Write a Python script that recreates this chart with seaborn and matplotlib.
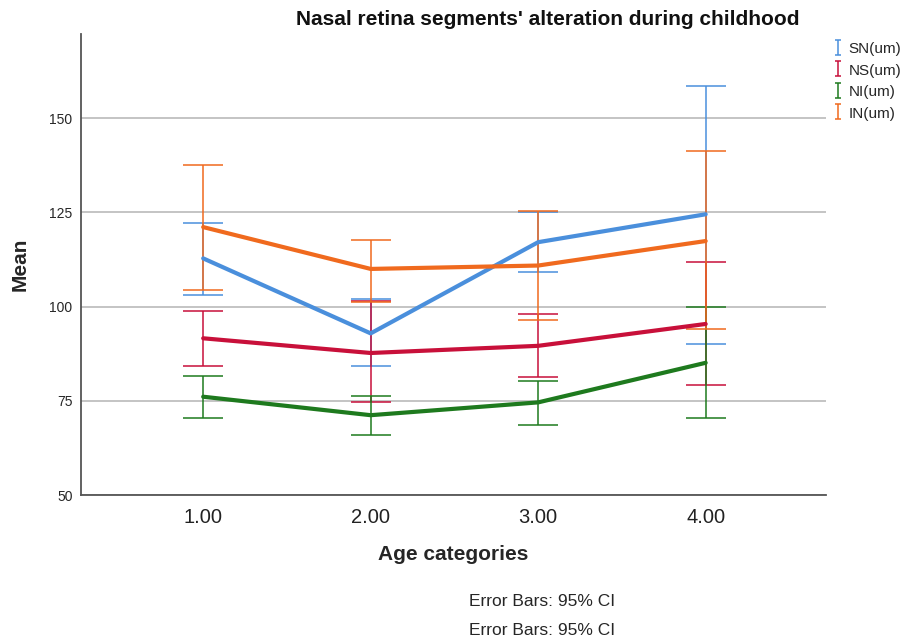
import matplotlib
matplotlib.use('Agg')
import matplotlib.pyplot as plt
import seaborn as sns
import pandas as pd
import numpy as np

# Dados (médias e IC 95%)
age_cats = [1.0, 2.0, 3.0, 4.0]
series = ['SN(um)', 'NS(um)', 'NI(um)', 'IN(um)']

sn_mean = [112.8, 92.9, 117.1, 124.5]
sn_low = [103.1, 84.3, 109.1, 90.1]
sn_high = [122.3, 102.1, 125.1, 158.6]

ns_mean = [91.6, 87.7, 89.6, 95.4]
ns_low = [84.3, 74.6, 81.2, 79.3]
ns_high = [98.8, 101.4, 98.1, 111.8]

ni_mean = [76.1, 71.2, 74.6, 85.1]
ni_low = [70.4, 66.0, 68.7, 70.4]
ni_high = [81.6, 76.2, 80.3, 100.0]

in_mean = [121.1, 110.0, 110.9, 117.4]
in_low = [104.4, 101.2, 96.5, 94.0]
in_high = [137.7, 117.7, 125.3, 141.3]

colors = ['#4a8fdc', '#c8103a', '#1e7a1e', '#f06a1e']

rows = []
for name, m, lo, hi in zip(series,
                           [sn_mean, ns_mean, ni_mean, in_mean],
                           [sn_low, ns_low, ni_low, in_low],
                           [sn_high, ns_high, ni_high, in_high]):
    for a, mv, l, h in zip(age_cats, m, lo, hi):
        rows.append({'age': a, 'segment': name, 'mean': mv, 'low': l, 'high': h})
df = pd.DataFrame(rows)

sns.set_style('white')
plt.rcParams['font.family'] = ['Liberation Sans', 'DejaVu Sans']

fig = plt.figure(figsize=(9.09, 6.43), dpi=100)
ax = fig.add_axes([0.089, 0.230, 0.820, 0.717])

# Linhas das médias
sns.lineplot(data=df, x='age', y='mean', hue='segment', hue_order=series,
             palette=colors, linewidth=3, legend=False, ax=ax, zorder=3)

# Barras de erro
handles = []
for name, c in zip(series, colors):
    sub = df[df['segment'] == name]
    ax.errorbar(sub['age'], sub['mean'],
                yerr=[sub['mean'] - sub['low'], sub['high'] - sub['mean']],
                fmt='none', ecolor=c, elinewidth=1.1, capsize=14.5,
                capthick=1.1, zorder=2)
    # marcador pequeno para a legenda
    proxy = ax.errorbar([np.nan], [np.nan], yerr=[[1], [1]], fmt='none',
                        ecolor=c, elinewidth=1.1, capsize=2.5, capthick=1.1)
    handles.append(proxy)

ax.set_xlim(0.27, 4.72)
ax.set_ylim(50, 172.3)
ax.set_xticks(age_cats)
ax.set_xticklabels(['1.00', '2.00', '3.00', '4.00'], fontsize=14.5, color='#222222')
ax.set_yticks([50, 75, 100, 125, 150])
ax.tick_params(axis='y', labelsize=10, length=0, pad=6)
ax.tick_params(axis='x', length=0, pad=9)
ax.yaxis.grid(True, color='#b4b4b4', linewidth=1.1)
ax.set_axisbelow(True)

for side in ['top', 'right']:
    ax.spines[side].set_visible(False)
for side in ['left', 'bottom']:
    ax.spines[side].set_color('#555555')
    ax.spines[side].set_linewidth(1.3)

ax.set_xlabel('Age categories', fontsize=15, fontweight='bold', labelpad=13)
ax.set_ylabel('Mean', fontsize=15, fontweight='bold', labelpad=14)

fig.text(0.603, 0.970, "Nasal retina segments' alteration during childhood",
         ha='center', va='center', fontsize=15, fontweight='bold', color='#111111')

ax.legend(handles=handles, labels=series, loc='upper left',
          bbox_to_anchor=(0.910, 0.945), bbox_transform=fig.transFigure,
          frameon=False, fontsize=11, handlelength=0.6, handletextpad=0.4,
          labelspacing=0.45, borderaxespad=0, handleheight=0.9)

fig.text(0.596, 0.064, 'Error Bars: 95% CI', ha='center', va='center', fontsize=12.5)
fig.text(0.596, 0.020, 'Error Bars: 95% CI', ha='center', va='center', fontsize=12.5)

fig.savefig('out.png', dpi=100)
